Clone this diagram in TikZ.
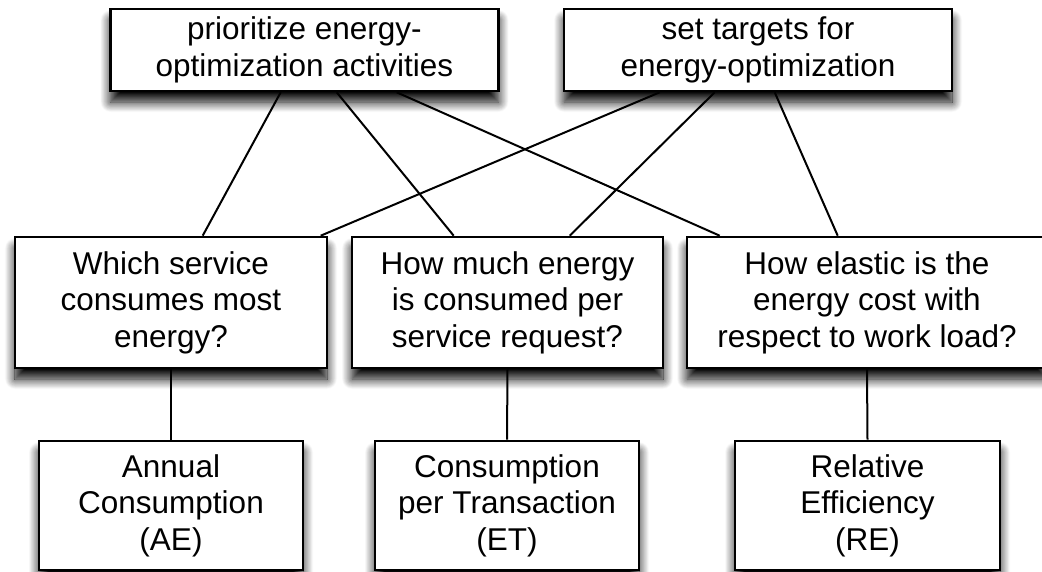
\documentclass[tikz,border=0pt]{standalone}
\usepackage{fontspec}
\setmainfont{Liberation Sans}
\usetikzlibrary{shadows.blur}
\begin{document}
\begin{tikzpicture}[x=1pt,y=-1pt,
  box/.style={draw=black, line width=2.6pt, fill=white, rectangle,
    inner sep=0pt, align=center,
    font=\fontsize{31.5}{36.5}\selectfont,
    blur shadow={shadow xshift=0pt, shadow yshift=-11pt,
      shadow blur radius=10pt, shadow opacity=100, shadow blur steps=14}},
  link/.style={draw=black, line width=2pt}]
\useasboundingbox (0,0) rectangle (1042,571);
\clip (0,0) rectangle (1042,571);

% goals
\node[box, minimum width=388pt, minimum height=82pt] (tl) at (304.5,50)
  {prioritize energy-\\optimization activities};
\node[box, minimum width=388pt, minimum height=82pt] (tr) at (758,50)
  {set targets for\\energy-optimization};

% questions
\node[box, minimum width=312pt, minimum height=131pt] (ml) at (171,302.5)
  {Which service\\consumes most\\energy?};
\node[box, minimum width=311pt, minimum height=131pt] (mm) at (507.5,302.5)
  {How much energy\\is consumed per\\service request?};
\node[box, minimum width=360pt, minimum height=131pt] (mr) at (867,302.5)
  {How elastic is the\\energy cost with\\respect to work load?};

% metrics
\node[box, minimum width=264pt, minimum height=129pt] (bl) at (171,505.5)
  {Annual\\Consumption\\(AE)};
\node[box, minimum width=264pt, minimum height=129pt] (bm) at (507,505.5)
  {Consumption\\per Transaction\\(ET)};
\node[box, minimum width=265pt, minimum height=129pt] (br) at (867.5,505.5)
  {Relative\\Efficiency\\(RE)};

% goal -> question links
\draw[link] ([xshift=171.5pt]tl.south west) -- ([xshift=189pt]ml.north west);
\draw[link] ([xshift=227.5pt]tl.south west) -- ([xshift=103pt]mm.north west);
\draw[link] ([xshift=287.5pt]tl.south west) -- ([xshift=34pt]mr.north west);
\draw[link] ([xshift=97pt]tr.south west) -- ([xshift=307pt]ml.north west);
\draw[link] ([xshift=152pt]tr.south west) -- ([xshift=219pt]mm.north west);
\draw[link] ([xshift=212pt]tr.south west) -- ([xshift=152pt]mr.north west);

% question -> metric links
\draw[link] (ml.south) -- (bl.north);
\draw[link] (mm.south) -- (bm.north);
\draw[link] (mr.south) -- (br.north);
\end{tikzpicture}
\end{document}
